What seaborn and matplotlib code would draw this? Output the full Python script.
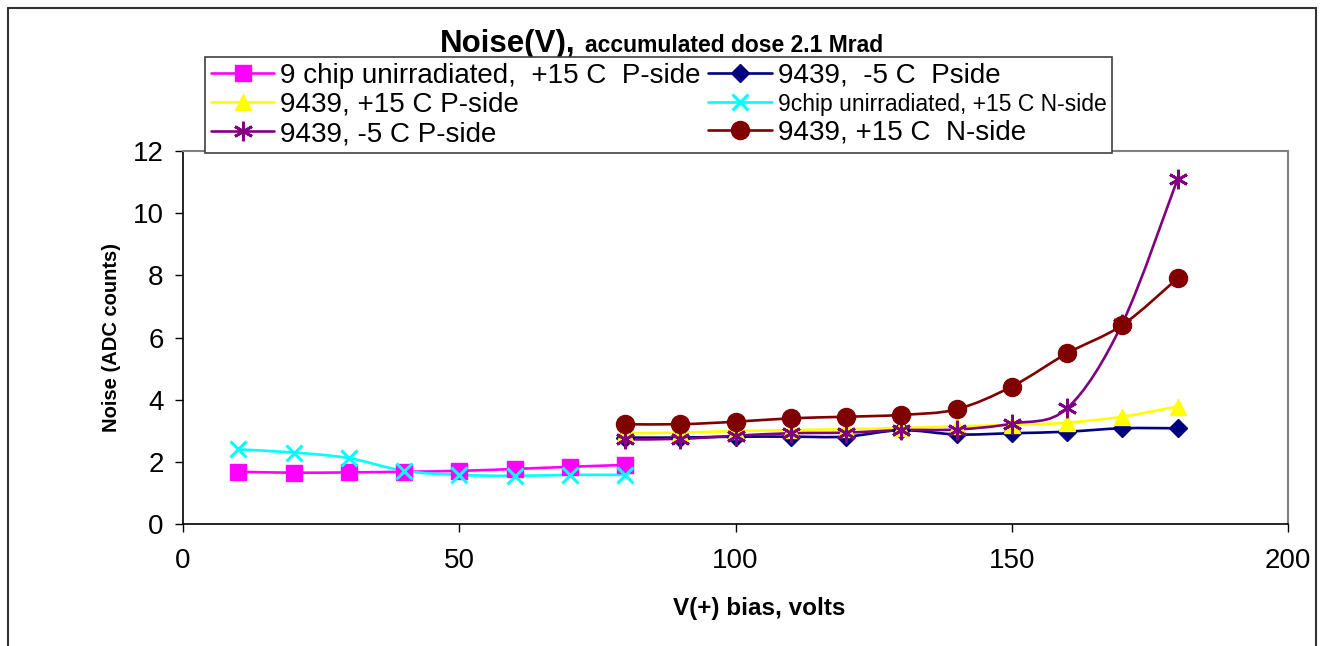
import numpy as np
import matplotlib
matplotlib.use("Agg")
import matplotlib.pyplot as plt
from matplotlib import font_manager
from matplotlib.path import Path
from matplotlib.patches import PathPatch
from matplotlib.lines import Line2D
import seaborn as sns

# data
volts_low = [10, 20, 30, 40, 50, 60, 70, 80]
volts_high = [80, 90, 100, 110, 120, 130, 140, 150, 160, 170, 180]

unirr_p = [1.68, 1.65, 1.66, 1.68, 1.71, 1.77, 1.84, 1.90]
unirr_n = [2.40, 2.30, 2.12, 1.71, 1.58, 1.55, 1.58, 1.58]
minus5_pside = [2.78, 2.78, 2.81, 2.81, 2.81, 3.02, 2.88, 2.92, 2.97, 3.08, 3.08]
plus15_p = [2.92, 2.94, 2.99, 3.02, 3.05, 3.09, 3.14, 3.19, 3.26, 3.45, 3.78]
minus5_p = [2.72, 2.74, 2.84, 2.92, 2.94, 3.02, 3.04, 3.23, 3.72, 6.45, 11.09]
plus15_n = [3.21, 3.21, 3.29, 3.40, 3.45, 3.51, 3.69, 4.42, 5.49, 6.40, 7.90]

labels = ["9 chip unirradiated,  +15 C  P-side", "9439,  -5 C  Pside",
          "9439, +15 C P-side", "9chip unirradiated, +15 C N-side",
          "9439, -5 C P-side", "9439, +15 C  N-side"]

sns.set_theme(style="white")
plt.rcParams['font.family'] = ['Liberation Sans', 'DejaVu Sans']
plt.rcParams['text.color'] = 'black'
plt.rcParams['axes.labelcolor'] = 'black'


def smooth_path(x, y):
    # Excel style smoothed line: cubic bezier with catmull-rom control points
    pts = np.column_stack([np.asarray(x, float), np.asarray(y, float)])
    verts = [pts[0]]
    codes = [Path.MOVETO]
    n = len(pts)
    for i in range(n - 1):
        p0 = pts[max(i - 1, 0)]
        p1 = pts[i]
        p2 = pts[i + 1]
        p3 = pts[min(i + 2, n - 1)]
        verts += [p1 + (p2 - p0) / 6.0, p2 - (p3 - p1) / 6.0, p2]
        codes += [Path.CURVE4] * 3
    return Path(verts, codes)


series = [
    (volts_low, unirr_p, "#FF00FF", dict(marker="s", ms=11, mec="#FF00FF", mew=1)),
    (volts_high, minus5_pside, "#000080", dict(marker="D", ms=9, mec="#000080", mew=1)),
    (volts_high, plus15_p, "#FFFF00", dict(marker="^", ms=12, mec="#FFFF00", mew=1)),
    (volts_low, unirr_n, "#00FFFF", dict(marker="x", ms=12, mec="#00FFFF", mew=2.2)),
    (volts_high, minus5_p, "#800080", dict(marker=(6, 2, 0), ms=14, mec="#800080", mew=2)),
    (volts_high, plus15_n, "#800000", dict(marker="o", ms=13, mec="#800000", mew=1)),
]

fig = plt.figure(figsize=(13.23, 6.46), dpi=100)
ax = fig.add_axes([183 / 1323, 1 - 524 / 646, (1288 - 183) / 1323, (524 - 151) / 646])

handles = []
for (xs, ys, col, mk), lab in zip(series, labels):
    ax.add_patch(PathPatch(smooth_path(xs, ys), fill=False, edgecolor=col, lw=1.9,
                           capstyle="round", joinstyle="round"))
    sns.lineplot(x=xs, y=ys, ax=ax, color=col, linestyle="none", mfc=col, **mk)
    handles.append(Line2D([], [], color=col, lw=1.9, mfc=col, **mk))

ax.set_xlim(0, 200)
ax.set_ylim(0, 12)
ax.set_xticks(np.arange(0, 201, 50))
ax.set_yticks(np.arange(0, 13, 2))
ax.tick_params(axis="both", labelsize=20, direction="out", length=6, width=1, colors="black")
ax.tick_params(axis="x", pad=11, bottom=True)
ax.tick_params(axis="y", pad=8, left=True)
for s in ["left", "bottom"]:
    ax.spines[s].set_color("black")
    ax.spines[s].set_linewidth(1.2)
for s in ["top", "right"]:
    ax.spines[s].set_color("#808080")
    ax.spines[s].set_linewidth(1.5)
ax.grid(False)

ax.set_xlabel("V(+) bias, volts", fontsize=17.5, fontweight="bold")
ax.xaxis.set_label_coords((759 - 183) / 1105, -(608 - 524) / 373)
ax.xaxis.label.set_va("center")
ax.set_ylabel("Noise (ADC counts)", fontsize=14.5, fontweight="bold", labelpad=8)

# legend, filled column-wise -> reorder so rows read like the original
order = [0, 2, 4, 1, 3, 5]
leg = fig.legend([handles[i] for i in order], [labels[i] for i in order],
                 loc="upper left", ncol=2, mode="expand",
                 bbox_to_anchor=(205 / 1323, 1 - 150 / 646, (1112 - 205) / 1323, 93 / 646),
                 fontsize=20, frameon=True, fancybox=False, shadow=False, framealpha=1,
                 handlelength=2.3, handletextpad=0.2, labelspacing=0.12,
                 borderpad=0.2, borderaxespad=0, columnspacing=0.8)
leg.get_frame().set_edgecolor("#404040")
leg.get_frame().set_linewidth(1.2)

# the long cyan entry is squeezed in the original
names = {f.name for f in font_manager.fontManager.ttflist}
cyan_txt = leg.get_texts()[4]
if "Liberation Sans Narrow" in names:
    cyan_txt.set_family("Liberation Sans Narrow")
else:
    cyan_txt.set_fontsize(16.5)

# title in two sizes
fig.text(440 / 1323, 1 - 52 / 646, "Noise(V),", fontsize=22.5, fontweight="bold",
         ha="left", va="baseline")
fig.text(585 / 1323, 1 - 52 / 646, "accumulated dose 2.1 Mrad", fontsize=16.5,
         fontweight="bold", ha="left", va="baseline")

# outer chart border (bottom edge is cut off in the original)
for xs_, ys_ in [((8, 8), (646, 8)), ((8, 1316), (8, 8)), ((1316, 1316), (8, 646))]:
    fig.add_artist(Line2D([x / 1323 for x in xs_], [1 - y / 646 for y in ys_],
                          color="#333333", lw=1.5, transform=fig.transFigure))

fig.savefig("out.png", dpi=100)
